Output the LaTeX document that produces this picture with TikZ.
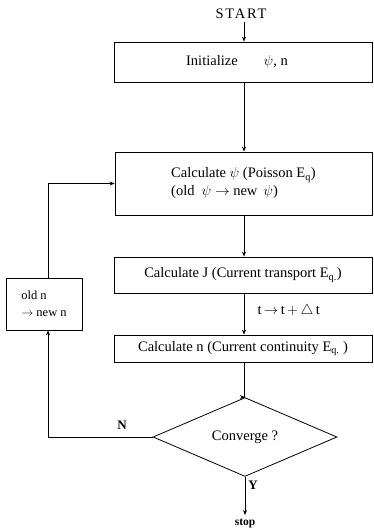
\documentclass[tikz,border=0pt]{standalone}
\usepackage{fontspec}
\setmainfont{Liberation Serif}
\usetikzlibrary{shapes.geometric,arrows.meta}
\begin{document}
\begin{tikzpicture}[x=1pt,y=-1pt,
  font=\fontsize{14.5}{18}\selectfont,
  box/.style={draw,line width=0.8pt,rectangle,inner sep=0pt},
  conn/.style={line width=0.8pt,-{Stealth[length=5pt,width=4pt]}},
  plain/.style={line width=0.8pt}]
\useasboundingbox (0,0) rectangle (373,530);
\coordinate (mx) at (244,0);
\node[font=\fontsize{14.5}{18}\selectfont\addfontfeatures{LetterSpace=12}] (start) at (241,14) {START};
\node[box,minimum width=258pt,minimum height=40pt] (b1) at (243,62) {\hspace{-12pt}Initialize\hspace{26pt}$\psi$, n};
\node[box,minimum width=257pt,minimum height=63pt,align=left] (b2) at (243.5,183.5)
  {Calculate $\psi$ (Poisson E\textsubscript{q})\\(old\hspace{7pt}$\psi\rightarrow$ new\hspace{6pt}$\psi$)};
\node[box,minimum width=258pt,minimum height=36pt] (b3) at (243,275) {Calculate J (Current transport E\textsubscript{q.})};
\node[box,minimum width=258pt,minimum height=27pt] (b4) at (243,348.5) {Calculate n (Current continuity E\textsubscript{q.} )};
\node[box,minimum width=76pt,minimum height=52pt,align=left,font=\fontsize{12.5}{17}\selectfont] (old) at (44,304) {old n\\$\rightarrow$ new n};
\node[draw,line width=0.8pt,diamond,inner sep=0pt,minimum width=184pt,minimum height=72pt] (dia) at (245,437) {Converge ?};
\node[anchor=west] (dt) at (254,311) {t$\,\rightarrow\,$t$\,+\,\triangle\,$t};
\node[font=\fontsize{13}{15}\selectfont\bfseries] (nlab) at (122,425) {N};
\node[font=\fontsize{13}{15}\selectfont\bfseries] (ylab) at (253,485) {Y};
\node[font=\fontsize{11.5}{13}\selectfont\bfseries] (stop) at (245,523) {stop};
\coordinate (loopa) at (48,437);
\coordinate (loopb) at (48,183.5);
\draw[conn] (start.south -| mx) -- (b1.north -| mx);
\draw[conn] (b1.south -| mx) -- (b2.north -| mx);
\draw[conn] (b2.south -| mx) -- (b3.north -| mx);
\draw[conn] (b3.south -| mx) -- (b4.north -| mx);
\draw[conn] (b4.south -| mx) |- (dia.north);
\draw[conn] (dia.south) -- (stop.north);
\draw[conn] (dia.west) -- (loopa) -- (old.south -| loopa);
\draw[conn] (old.north -| loopa) -- (loopb) -- (b2.west);
\end{tikzpicture}
\end{document}
